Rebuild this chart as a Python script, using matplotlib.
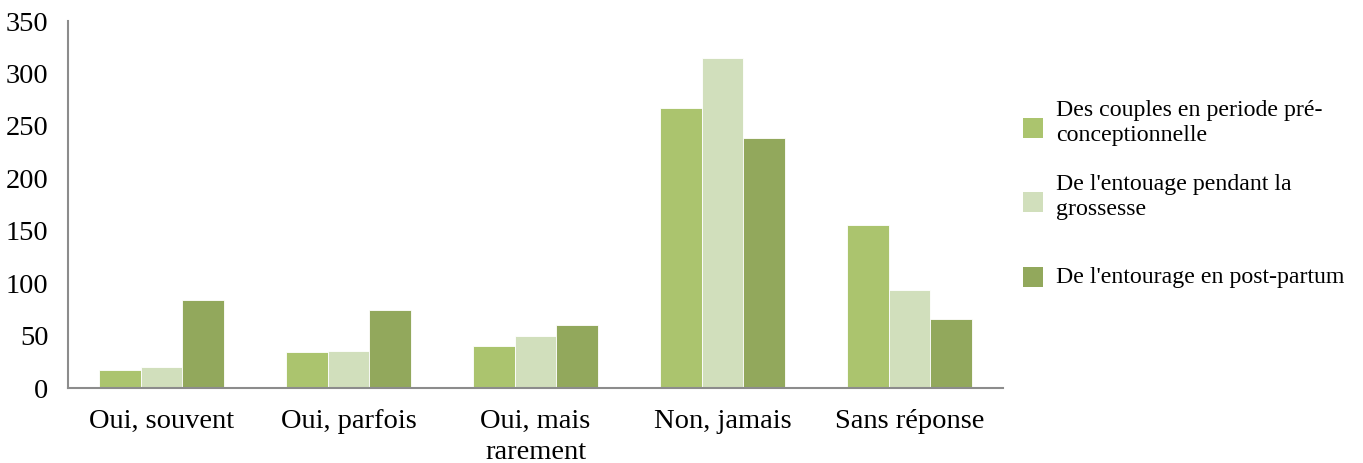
import numpy as np
import matplotlib
matplotlib.use('Agg')
import matplotlib.pyplot as plt
from matplotlib.patches import Rectangle

categories = ['Oui, souvent', 'Oui, parfois', 'Oui, mais\nrarement', 'Non, jamais', 'Sans réponse']
series_names = ['Des couples en periode pré-\nconceptionnelle',
                "De l'entouage pendant la\ngrossesse",
                "De l'entourage en post-partum"]
preconception = [17, 34, 40, 267, 155]
grossesse = [20, 35, 50, 315, 93]
post_partum = [84, 74, 60, 238, 66]
colors = ['#ABC46E', '#D1DFBC', '#92A85C']

plt.rcParams['font.family'] = ['Liberation Serif', 'DejaVu Serif']

W, H = 1363, 463
fig = plt.figure(figsize=(W / 100, H / 100), dpi=100)
ax = fig.add_axes([68 / W, 1 - 388 / H, 935 / W, 367 / H])

x = np.arange(len(categories))
width = 1 / 4.5
for i, vals in enumerate([preconception, grossesse, post_partum]):
    ax.bar(x + (i - 1) * width, vals, width, color=colors[i],
           edgecolor='white', linewidth=0.6)

ax.set_xlim(-0.5, 4.5)
ax.set_ylim(0, 350)
ax.set_yticks(range(0, 351, 50))
ax.set_xticks(x)
ax.set_xticklabels(categories)
ax.tick_params(axis='both', length=0, labelsize=20.5)
ax.tick_params(axis='y', pad=14)
ax.tick_params(axis='x', pad=15)
for t in ax.get_xticklabels():
    t.set_linespacing(1.3)

for s in ['top', 'right']:
    ax.spines[s].set_visible(False)
for s in ['left', 'bottom']:
    ax.spines[s].set_color('#8C8C8C')
    ax.spines[s].set_linewidth(1.5)

# legend drawn by hand so the three slots are evenly spaced
slot_y = [128, 202, 277]
for name, col, yc in zip(series_names, colors, slot_y):
    fig.patches.append(Rectangle((1023 / W, 1 - (yc + 10) / H), 20 / W, 20 / H,
                                 transform=fig.transFigure, facecolor=col,
                                 edgecolor='none'))
    ty = yc - 5 * name.count('\n')
    fig.text(1056 / W, 1 - ty / H, name, fontsize=17.2, va='center', ha='left',
             linespacing=1.3)

fig.savefig('out.png', dpi=100)
